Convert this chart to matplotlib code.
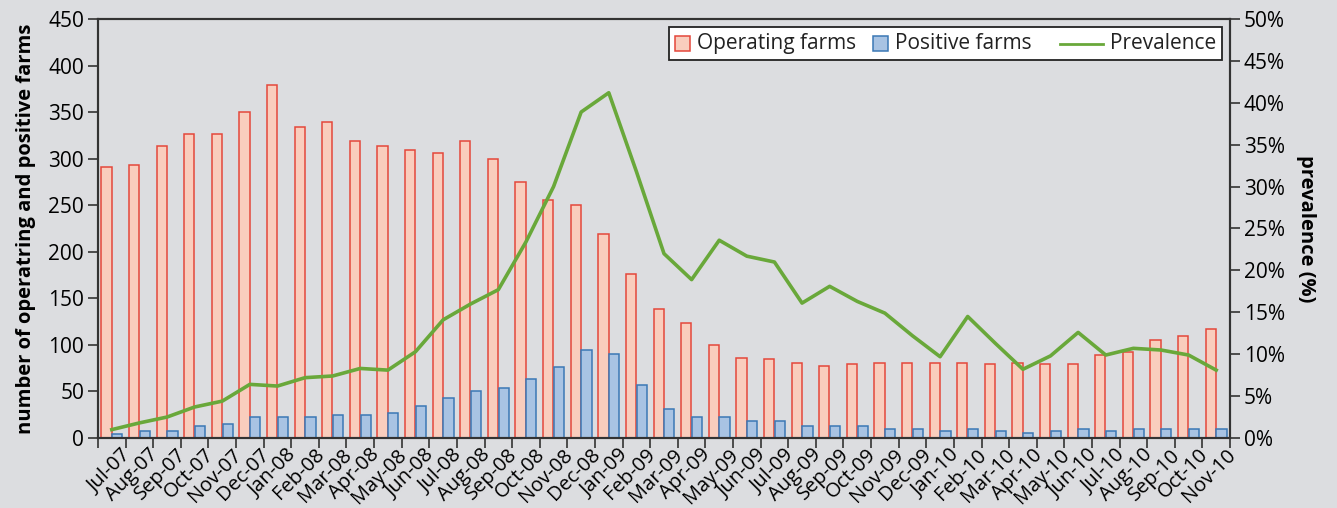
import matplotlib
matplotlib.use("Agg")
import matplotlib.pyplot as plt
import numpy as np
from matplotlib.patches import Rectangle
from matplotlib.lines import Line2D
from matplotlib.offsetbox import (AnchoredOffsetbox, DrawingArea, HPacker,
                                  TextArea)
from matplotlib.ticker import FixedLocator, PercentFormatter
import matplotlib.transforms as mtransforms

months = ["Jul-07", "Aug-07", "Sep-07", "Oct-07", "Nov-07", "Dec-07",
          "Jan-08", "Feb-08", "Mar-08", "Apr-08", "May-08", "Jun-08",
          "Jul-08", "Aug-08", "Sep-08", "Oct-08", "Nov-08", "Dec-08",
          "Jan-09", "Feb-09", "Mar-09", "Apr-09", "May-09", "Jun-09",
          "Jul-09", "Aug-09", "Sep-09", "Oct-09", "Nov-09", "Dec-09",
          "Jan-10", "Feb-10", "Mar-10", "Apr-10", "May-10", "Jun-10",
          "Jul-10", "Aug-10", "Sep-10", "Oct-10", "Nov-10"]

operating_farms = [291, 293, 314, 327, 327, 350,
                   379, 334, 339, 319, 314, 309,
                   306, 319, 300, 275, 256, 250,
                   219, 176, 139, 123, 100, 86,
                   85, 81, 77, 80, 81, 81,
                   81, 81, 79, 81, 79, 79,
                   89, 92, 105, 110, 117]

positive_farms = [4, 7, 8, 13, 15, 23,
                  23, 23, 25, 25, 27, 34,
                  43, 50, 54, 63, 76, 94,
                  90, 57, 31, 23, 23, 18,
                  18, 13, 13, 13, 10, 10,
                  8, 10, 8, 5, 8, 10,
                  8, 10, 10, 10, 10]

prevalence = [1.0, 1.8, 2.5, 3.7, 4.4, 6.4,
              6.2, 7.2, 7.4, 8.3, 8.1, 10.3,
              14.1, 16.0, 17.7, 23.4, 30.0, 38.9,
              41.2, 31.8, 22.0, 18.9, 23.6, 21.7,
              21.0, 16.1, 18.1, 16.3, 14.9, 12.2,
              9.7, 14.5, 11.3, 8.2, 9.8, 12.6,
              9.9, 10.7, 10.5, 9.9, 8.1]

left_ticks = [0, 50, 100, 150, 200, 250, 300, 350, 400, 450]
right_ticks = [0, 5, 10, 15, 20, 25, 30, 35, 40, 45, 50]
legend_labels = ["Operating farms", "Positive farms", "Prevalence"]

BG = "#dcdde0"
OP_FACE, OP_EDGE = "#f9cdbd", "#e4473b"
POS_FACE, POS_EDGE = "#a8c3e3", "#3b78b5"
LINE_C = "#69a83a"
SPINE_C = "#333333"

plt.rcParams['font.family'] = ['Open Sans', 'DejaVu Sans']

fig = plt.figure(figsize=(13.37, 5.08), dpi=100, facecolor=BG)
ax = fig.add_axes([98/1337, 1-438/508, (1230-98)/1337, (438-19)/508])
ax.set_facecolor(BG)

x = np.arange(len(months))
w = 0.37
ax.bar(x - w/2 - 0.01, operating_farms, width=w, color=OP_FACE, edgecolor=OP_EDGE,
       linewidth=1.1, zorder=2)
ax.bar(x + w/2 + 0.01, positive_farms, width=w, color=POS_FACE, edgecolor=POS_EDGE,
       linewidth=1.1, zorder=2)

ax.set_xlim(-0.5, len(months) - 0.5)
ax.set_ylim(0, 450)
ax.set_yticks(left_ticks)
ax.tick_params(axis='y', labelsize=15, length=7, width=1.2, color=SPINE_C, pad=3)

ax.set_xticks(x)
ax.set_xticklabels(months, rotation=45, ha='right', rotation_mode='anchor', fontsize=14.5)
ax.xaxis.set_minor_locator(FixedLocator(np.arange(-0.5, len(months), 1.0)))
ax.tick_params(axis='x', which='major', length=0, pad=5)
ax.tick_params(axis='x', which='minor', length=7, width=1.2, color=SPINE_C)
offset = mtransforms.ScaledTranslation(9/100, 0, fig.dpi_scale_trans)
for lab in ax.get_xticklabels():
    lab.set_transform(lab.get_transform() + offset)

for s in ax.spines.values():
    s.set_color(SPINE_C)
    s.set_linewidth(1.5)

ax.set_ylabel("number of operatring and positive farms", fontsize=14.5,
              fontweight='bold', labelpad=9)

ax2 = ax.twinx()
ax2.plot(x, prevalence, color=LINE_C, linewidth=2.6, zorder=3)
ax2.set_ylim(0, 50)
ax2.set_yticks(right_ticks)
ax2.yaxis.set_major_formatter(PercentFormatter(decimals=0))
ax2.tick_params(axis='y', labelsize=15, length=7, width=1.2, color=SPINE_C, pad=3)
for s in ax2.spines.values():
    s.set_color(SPINE_C)
    s.set_linewidth(1.5)
ax2.set_ylabel("prevalence (%)", fontsize=14.5, fontweight='bold', rotation=270,
               labelpad=22)

# ---- legend built from offsetboxes (square swatches + longer line swatch)
SQ = 11.0  # points
def square(face, edge):
    da = DrawingArea(SQ, SQ, 0, 0)
    da.add_artist(Rectangle((0, 0), SQ, SQ, facecolor=face, edgecolor=edge, linewidth=1.1))
    return da

def line_swatch():
    da = DrawingArea(31, SQ, 0, 0)
    da.add_artist(Line2D([0, 31], [SQ/2, SQ/2], color=LINE_C, linewidth=2.0))
    return da

tp = dict(size=15, family=['Open Sans', 'DejaVu Sans'], color="#222222")
e1 = HPacker(children=[square(OP_FACE, OP_EDGE), TextArea(legend_labels[0], textprops=tp)],
             align='center', pad=0, sep=5)
e2 = HPacker(children=[square(POS_FACE, POS_EDGE), TextArea(legend_labels[1], textprops=tp)],
             align='center', pad=0, sep=5)
e3 = HPacker(children=[DrawingArea(4, SQ, 0, 0), line_swatch(), TextArea(legend_labels[2], textprops=tp)],
             align='center', pad=0, sep=4.5)
row = HPacker(children=[e1, e2, e3], align='center', pad=0, sep=12)
anch = AnchoredOffsetbox(loc='upper right', child=row, pad=0.3, borderpad=0.38,
                         frameon=True, prop=dict(size=15),
                         bbox_to_anchor=ax2.bbox, bbox_transform=None)
anch.patch.set_boxstyle("square", pad=0)
anch.patch.set_facecolor("white")
anch.patch.set_edgecolor("#222222")
anch.patch.set_linewidth(1.3)
anch.set_zorder(10)
ax2.add_artist(anch)

fig.savefig("out.png", dpi=100, facecolor=BG)
